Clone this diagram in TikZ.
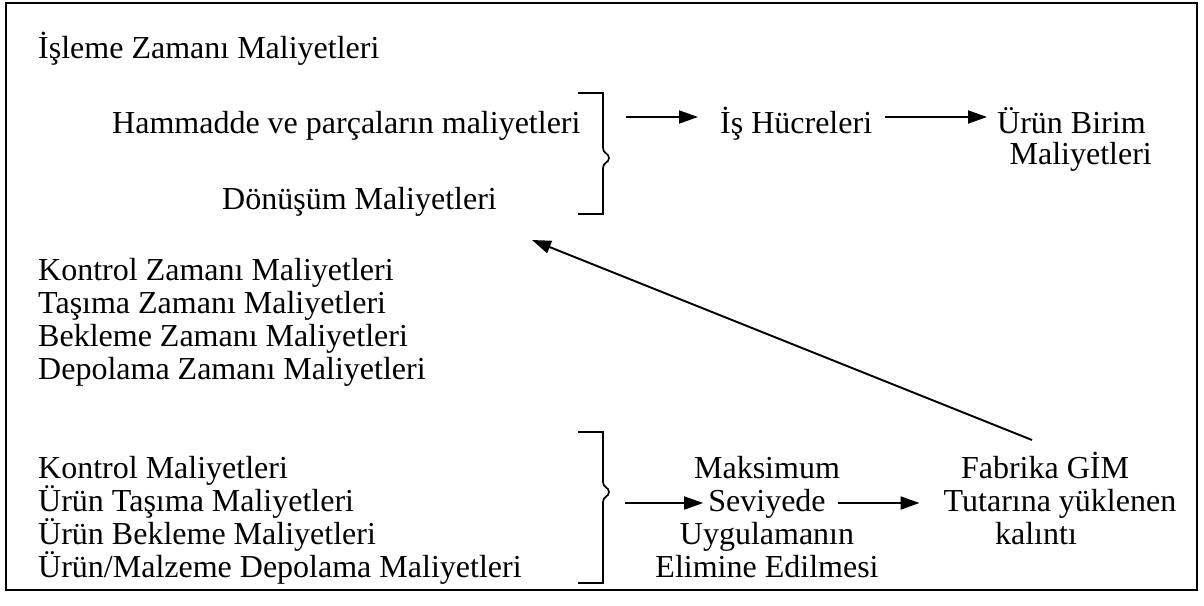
\documentclass[tikz,border=0pt]{standalone}
\usepackage{fontspec}
\setmainfont{Liberation Serif}
\usetikzlibrary{arrows.meta}
\begin{document}
\begin{tikzpicture}[x=1pt,y=-1pt,
  txt/.style={anchor=base west,inner sep=0pt,font=\fontsize{32}{34}\selectfont},
  ctxt/.style={anchor=base,inner sep=0pt,font=\fontsize{32}{34}\selectfont},
  frame/.style={line width=1.7pt},
  brk/.style={line width=1.7pt,line join=miter},
  arr/.style={line width=1.9pt,-{Triangle[length=19pt,width=13pt]}}]
\useasboundingbox (0,0) rectangle (1204,605);
\draw[frame] (6,3) rectangle (1197,590);

% top group
\node[txt] (isl) at (38,58) {İşleme Zamanı Maliyetleri};
\node[txt] (ham) at (112,133) {Hammadde ve parçaların maliyetleri};
\node[txt] (don) at (222,209) {Dönüşüm Maliyetleri};
\draw[brk] (578,93) -- (603,93) -- (603,148)
  .. controls (603,154) and (609,153) .. (609,158)
  .. controls (609,163) and (603,162) .. (603,168) -- (603,214) -- (578,214);
\coordinate (b1) at (603,117);
\node[txt] (ish) at (720,133) {İş Hücreleri};
\node[txt] (ub1) at (997,133) {Ürün Birim};
\node[anchor=base east,inner sep=0pt,font=\fontsize{32}{34}\selectfont] (ub2) at (1152,164) {Maliyetleri};
\draw[arr,shorten <=23pt,shorten >=22pt] (b1) -- (b1 -| ish.west);
\draw[arr,shorten <=13pt,shorten >=10pt] (ish.east |- b1) -- (ub1.west |- b1);

% middle list
\node[txt] (kz) at (38,280) {Kontrol Zamanı Maliyetleri};
\node[txt] (tz) at (38,313) {Taşıma Zamanı Maliyetleri};
\node[txt] (bz) at (38,346) {Bekleme Zamanı Maliyetleri};
\node[txt] (dz) at (38,379) {Depolama Zamanı Maliyetleri};

% bottom group
\node[txt] (km) at (38,478) {Kontrol Maliyetleri};
\node[txt] (ut) at (38,511) {Ürün Taşıma Maliyetleri};
\node[txt] (ub) at (38,544) {Ürün Bekleme Maliyetleri};
\node[txt] (um) at (38,577) {Ürün/Malzeme Depolama Maliyetleri};
\draw[brk] (578,432) -- (603,432) -- (603,482)
  .. controls (603,488) and (609,487) .. (609,492)
  .. controls (609,497) and (603,496) .. (603,502) -- (603,583) -- (578,583);
\coordinate (b2) at (603,503);

\node[ctxt] (mak) at (767,478) {Maksimum};
\node[ctxt] (sev) at (767,511) {Seviyede};
\node[ctxt] (uyg) at (767,544) {Uygulamanın};
\node[ctxt] (eli) at (767,577) {Elimine Edilmesi};

\node[ctxt] (fab) at (1045,478) {Fabrika GİM};
\node[ctxt] (tut) at (1060,511) {Tutarına yüklenen};
\node[ctxt] (kal) at (1036,544) {kalıntı};

\draw[arr,shorten <=22pt,shorten >=5pt] (b2) -- (b2 -| sev.west);
\draw[arr,shorten <=12pt,shorten >=24pt] (sev.east |- b2) -- (tut.west |- b2);

\coordinate (gtail) at (1032,440);
\coordinate (dtip) at (532,240);
\draw[arr] (gtail) -- (dtip);
\end{tikzpicture}
\end{document}
